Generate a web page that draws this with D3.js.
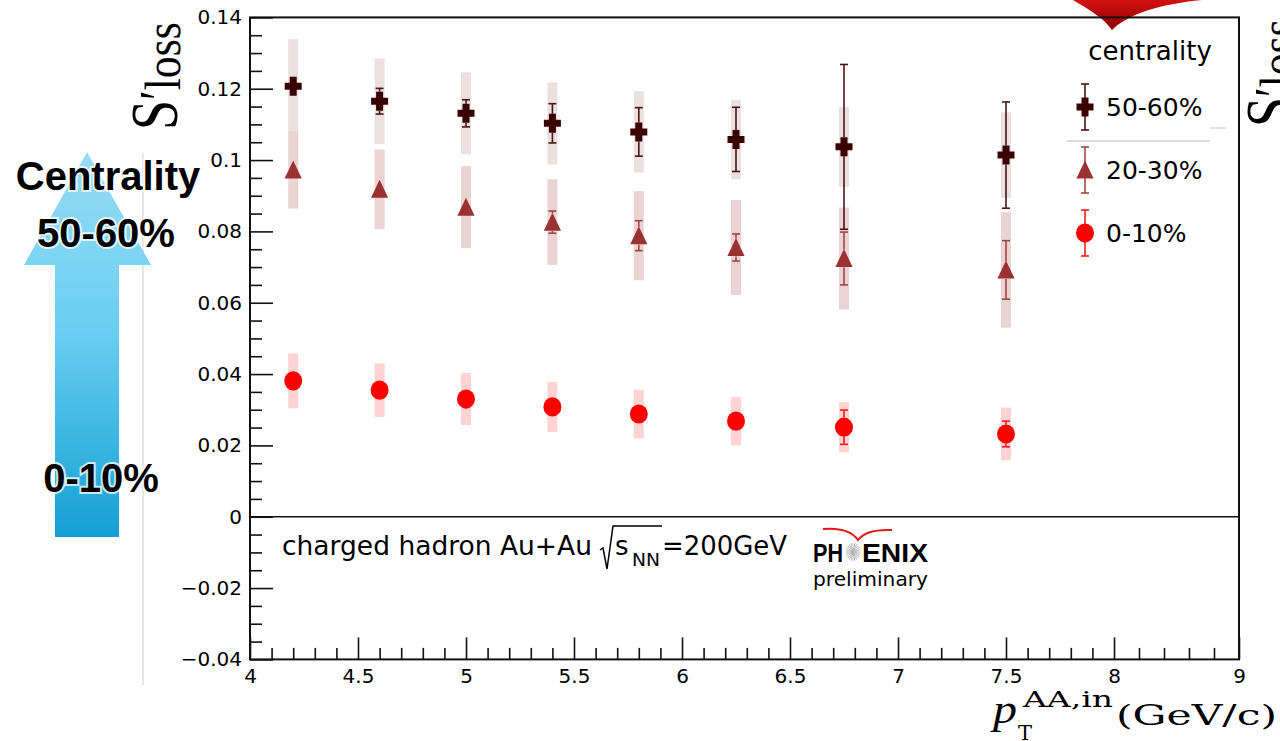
<!DOCTYPE html>
<html>
<head>
<meta charset="utf-8">
<script src="https://cdn.jsdelivr.net/npm/d3@7"></script>
<style>
  body { margin: 0; background: #fff; }
  svg { display: block; }
</style>
</head>
<body>
<div id="chart"></div>
<script>
// data
var pt = [4.2, 4.6, 5.0, 5.4, 5.8, 6.25, 6.75, 7.5];

var s5060 = [0.1207, 0.1165, 0.1131, 0.1103, 0.1079, 0.1058, 0.1037, 0.1014];
var stat5060 = [0.0015, 0.0036, 0.0038, 0.0055, 0.0068, 0.0090, 0.0231, 0.0149];
var sys5060 = [0.0132, 0.0120, 0.0115, 0.0115, 0.0114, 0.0111, 0.0112, 0.0120];

var s2030 = [0.0972, 0.0918, 0.0868, 0.0826, 0.0788, 0.0755, 0.0724, 0.0692];
var stat2030 = [0.0015, 0.0018, 0.0020, 0.0031, 0.0042, 0.0038, 0.0074, 0.0082];
var sys2030 = [0.0108, 0.0112, 0.0115, 0.0120, 0.0125, 0.0133, 0.0143, 0.0162];

var s010 = [0.0381, 0.0355, 0.0330, 0.0308, 0.0288, 0.0268, 0.0251, 0.0232];
var stat010 = [0.0010, 0.0010, 0.0010, 0.0012, 0.0013, 0.0015, 0.0048, 0.0036];
var sys010 = [0.0077, 0.0075, 0.0073, 0.0070, 0.0068, 0.0068, 0.0070, 0.0074];

var seriesNames = ["50-60%", "20-30%", "0-10%"];

var xTicks = [4, 4.5, 5, 5.5, 6, 6.5, 7, 7.5, 8, 9];
var xTickLabels = ["4", "4.5", "5", "5.5", "6", "6.5", "7", "7.5", "8", "9"];
var yTicks = [-0.04, -0.02, 0, 0.02, 0.04, 0.06, 0.08, 0.1, 0.12, 0.14];
var yTickLabels = ["\u22120.04", "\u22120.02", "0", "0.02", "0.04", "0.06", "0.08", "0.1", "0.12", "0.14"];

// SVG
var svgWidth = 1280, svgHeight = 741;
var plot = { left: 250, right: 1239, top: 17.4, bottom: 659.4 };

var svg = d3.select("#chart")
    .append("svg")
    .attr("width", svgWidth)
    .attr("height", svgHeight);

var defs = svg.append("defs");
var grad = defs.append("linearGradient")
    .attr("id", "arrowGrad")
    .attr("x1", 0).attr("y1", 0).attr("x2", 0).attr("y2", 1);
grad.append("stop").attr("offset", "0%").attr("stop-color", "#97dcf6");
grad.append("stop").attr("offset", "45%").attr("stop-color", "#6ccff2");
grad.append("stop").attr("offset", "100%").attr("stop-color", "#14a0d4");

var redGrad = defs.append("linearGradient")
    .attr("id", "redGrad")
    .attr("x1", 0).attr("y1", 0).attr("x2", 0).attr("y2", 1);
redGrad.append("stop").attr("offset", "0%").attr("stop-color", "#d21010");
redGrad.append("stop").attr("offset", "100%").attr("stop-color", "#8e0000");

// scales (the 8-9 stretch of the axis is squeezed in the original)
var xScale = d3.scaleLinear()
    .domain([4, 8, 9])
    .range([plot.left, 1114, plot.right]);

var yScale = d3.scaleLinear()
    .domain([-0.04, 0.14])
    .range([plot.bottom, plot.top]);

// ---- left slide decoration: centrality arrow
svg.append("line")
    .attr("x1", 143).attr("x2", 143)
    .attr("y1", 153).attr("y2", 685)
    .attr("stroke", "#cfcfcf")
    .attr("stroke-width", 1);

svg.append("path")
    .attr("d", "M87,152 L151,265 L119,265 L119,537 L55,537 L55,265 L24,265 Z")
    .attr("fill", "url(#arrowGrad)");

function glowText(txt, x, yPos) {
    svg.append("text")
        .attr("x", x)
        .attr("y", yPos)
        .attr("text-anchor", "middle")
        .attr("font-family", "Liberation Sans, Arial, sans-serif")
        .attr("font-weight", "bold")
        .attr("font-size", "40px")
        .attr("fill", "#000")
        .attr("stroke", "rgba(255,255,255,0.75)")
        .attr("stroke-width", 4)
        .attr("paint-order", "stroke")
        .text(txt);
}
glowText("Centrality", 108, 190);
glowText("50-60%", 106, 247);
glowText("0-10%", 101, 492);

// ---- red shape cut at the top
svg.append("path")
    .attr("d", "M1073,0 C1088,9 1104,18 1112,30 C1128,14 1160,4 1202,0 Z")
    .attr("fill", "url(#redGrad)");

// ---- axes
var xAxis = d3.axisBottom(xScale)
    .tickValues(xTicks)
    .tickSize(-22)
    .tickPadding(9)
    .tickFormat(function(d, i) { return xTickLabels[i]; });

var minorX = d3.range(41, 80).map(function(d) { return d / 10; })
    .filter(function(d) { return Math.abs(d * 2 - Math.round(d * 2)) > 1e-6; })
    .concat([8.2, 8.4, 8.6, 8.8]);

var xAxisMinor = d3.axisBottom(xScale)
    .tickValues(minorX)
    .tickSize(-11.5)
    .tickFormat("");

var yAxis = d3.axisLeft(yScale)
    .tickValues(yTicks)
    .tickSize(-23)
    .tickPadding(8)
    .tickFormat(function(d, i) { return yTickLabels[i]; });

var minorY = d3.range(-40, 141, 5)
    .filter(function(d) { return d % 20 !== 0; })
    .map(function(d) { return d / 1000; });

var yAxisMinor = d3.axisLeft(yScale)
    .tickValues(minorY)
    .tickSize(-12)
    .tickFormat("");

function styleAxis(g) {
    g.select(".domain").remove();
    g.selectAll("line").attr("stroke", "#111").attr("stroke-width", 1.6);
    g.selectAll("text")
        .attr("font-family", "DejaVu Sans, sans-serif")
        .attr("font-size", "20px")
        .attr("fill", "#000");
}

svg.append("g")
    .attr("transform", `translate(0, ${plot.bottom})`)
    .call(xAxisMinor).call(styleAxis);
svg.append("g")
    .attr("transform", `translate(0, ${plot.bottom})`)
    .call(xAxis).call(styleAxis);
svg.append("g")
    .attr("transform", `translate(${plot.left}, 0)`)
    .call(yAxisMinor).call(styleAxis);
svg.append("g")
    .attr("transform", `translate(${plot.left}, 0)`)
    .call(yAxis).call(styleAxis);

// frame
svg.append("rect")
    .attr("x", plot.left).attr("y", plot.top)
    .attr("width", plot.right - plot.left)
    .attr("height", plot.bottom - plot.top)
    .attr("fill", "none")
    .attr("stroke", "#111")
    .attr("stroke-width", 2);

// zero line
svg.append("line")
    .attr("x1", plot.left).attr("x2", plot.right)
    .attr("y1", yScale(0)).attr("y2", yScale(0))
    .attr("stroke", "#111")
    .attr("stroke-width", 1.6);

// ---- markers
function crossPath() {
    var a = 8.5, b = 9.5, t = 3.5;
    return `M${-t},${-b} L${t},${-b} L${t},${-t} L${a},${-t} L${a},${t} L${t},${t} L${t},${b} L${-t},${b} L${-t},${t} L${-a},${t} L${-a},${-t} L${-t},${-t} Z`;
}
function trianglePath() {
    return "M0,-9.5 L8.6,8.5 L-8.6,8.5 Z";
}
function circlePath() {
    return "M-9,0 A9,9.6 0 1,0 9,0 A9,9.6 0 1,0 -9,0 Z";
}

var series = [
    { name: seriesNames[0], vals: s5060, stat: stat5060, sys: sys5060,
      color: "#3a0000", bar: "#4a1515", band: "#ecdfe0", path: crossPath(), half: 9.5 },
    { name: seriesNames[1], vals: s2030, stat: stat2030, sys: sys2030,
      color: "#9a3232", bar: "#a54444", band: "#ecd3d3", path: trianglePath(), half: 9 },
    { name: seriesNames[2], vals: s010, stat: stat010, sys: sys010,
      color: "#ff0000", bar: "#ff1a1a", band: "#ffd3d3", path: circlePath(), half: 9.6 }
];

// systematic bands
series.forEach(function(s) {
    svg.append("g").selectAll("rect")
        .data(pt)
        .enter()
        .append("rect")
        .attr("x", d => xScale(d) - 5)
        .attr("width", 10)
        .attr("y", (d, i) => yScale(s.vals[i] + s.sys[i]))
        .attr("height", (d, i) => yScale(s.vals[i] - s.sys[i]) - yScale(s.vals[i] + s.sys[i]))
        .attr("fill", s.band);
});

// statistical bars, drawn outside the marker only
series.forEach(function(s) {
    var g = svg.append("g")
        .attr("stroke", s.bar)
        .attr("stroke-width", 1.6);
    pt.forEach(function(p, i) {
        var cx = xScale(p);
        var cy = yScale(s.vals[i]);
        var top = yScale(s.vals[i] + s.stat[i]);
        var bot = yScale(s.vals[i] - s.stat[i]);
        if (cy - top > s.half) {
            g.append("line").attr("x1", cx).attr("x2", cx).attr("y1", top).attr("y2", cy - s.half);
            g.append("line").attr("x1", cx - 4).attr("x2", cx + 4).attr("y1", top).attr("y2", top);
            g.append("line").attr("x1", cx).attr("x2", cx).attr("y1", cy + s.half).attr("y2", bot);
            g.append("line").attr("x1", cx - 4).attr("x2", cx + 4).attr("y1", bot).attr("y2", bot);
        }
    });
});

series.forEach(function(s) {
    svg.append("g").selectAll("path")
        .data(pt)
        .enter()
        .append("path")
        .attr("d", s.path)
        .attr("transform", (d, i) => `translate(${xScale(d)}, ${yScale(s.vals[i])})`)
        .attr("fill", s.color);
});

// ---- legend
var legend = svg.append("g");
legend.append("text")
    .attr("x", 1150).attr("y", 60)
    .attr("text-anchor", "middle")
    .attr("font-family", "DejaVu Sans, sans-serif")
    .attr("font-size", "26px")
    .text("centrality");

legend.append("line")
    .attr("x1", 1067).attr("x2", 1210).attr("y1", 141).attr("y2", 141)
    .attr("stroke", "#b8b8b8").attr("stroke-width", 1);
legend.append("line")
    .attr("x1", 1210).attr("x2", 1226).attr("y1", 128).attr("y2", 128)
    .attr("stroke", "#c8c8c8").attr("stroke-width", 1);

var legendY = [107, 170, 233];
series.forEach(function(s, i) {
    var ly = legendY[i];
    var g = legend.append("g").attr("transform", `translate(1085, ${ly})`);
    g.append("line").attr("x1", 0).attr("x2", 0).attr("y1", -23).attr("y2", 23)
        .attr("stroke", s.bar).attr("stroke-width", 1.6);
    g.append("line").attr("x1", -4).attr("x2", 4).attr("y1", -23).attr("y2", -23)
        .attr("stroke", s.bar).attr("stroke-width", 1.6);
    g.append("line").attr("x1", -4).attr("x2", 4).attr("y1", 23).attr("y2", 23)
        .attr("stroke", s.bar).attr("stroke-width", 1.6);
    g.append("path").attr("d", s.path).attr("fill", s.color);
    legend.append("text")
        .attr("x", 1106).attr("y", ly + 9)
        .attr("font-family", "DejaVu Sans, sans-serif")
        .attr("font-size", "25px")
        .text(s.name);
});

// ---- annotation
var note = svg.append("g")
    .attr("font-family", "DejaVu Sans, sans-serif")
    .attr("fill", "#000");
note.append("text")
    .attr("x", 282).attr("y", 555)
    .attr("font-size", "26px")
    .attr("textLength", 310)
    .attr("lengthAdjust", "spacingAndGlyphs")
    .text("charged hadron Au+Au");
note.append("path")
    .attr("d", "M600,550 L603,548 L607,569 L613,526 L662,526")
    .attr("fill", "none")
    .attr("stroke", "#000")
    .attr("stroke-width", 1.5);
note.append("text")
    .attr("x", 615).attr("y", 555)
    .attr("font-size", "26px")
    .text("s");
note.append("text")
    .attr("x", 632).attr("y", 566)
    .attr("font-size", "18px")
    .attr("textLength", 28)
    .attr("lengthAdjust", "spacingAndGlyphs")
    .text("NN");
note.append("text")
    .attr("x", 662).attr("y", 555)
    .attr("font-size", "26px")
    .attr("textLength", 125)
    .attr("lengthAdjust", "spacingAndGlyphs")
    .text("=200GeV");

// PHENIX logo
note.append("path")
    .attr("d", "M823,529 Q849,527 858,540 Q866,529 892,530")
    .attr("fill", "none")
    .attr("stroke", "#e01818")
    .attr("stroke-width", 2);
note.append("text")
    .attr("x", 813).attr("y", 562)
    .attr("font-family", "Liberation Sans, Arial, sans-serif")
    .attr("font-weight", "bold")
    .attr("font-size", "25px")
    .attr("textLength", 30)
    .attr("lengthAdjust", "spacingAndGlyphs")
    .text("PH");
note.append("text")
    .attr("x", 862).attr("y", 562)
    .attr("font-family", "Liberation Sans, Arial, sans-serif")
    .attr("font-weight", "bold")
    .attr("font-size", "25px")
    .attr("textLength", 66)
    .attr("lengthAdjust", "spacingAndGlyphs")
    .text("ENIX");
var star = note.append("g").attr("transform", "translate(853, 552)");
d3.range(0, 180, 15).forEach(function(a) {
    var r = a * Math.PI / 180;
    star.append("line")
        .attr("x1", -7.5 * Math.cos(r)).attr("y1", -9 * Math.sin(r))
        .attr("x2", 7.5 * Math.cos(r)).attr("y2", 9 * Math.sin(r))
        .attr("stroke", "#b4b4b4").attr("stroke-width", 0.9);
});
note.append("text")
    .attr("x", 813).attr("y", 586)
    .attr("font-size", "19px")
    .attr("textLength", 115)
    .attr("lengthAdjust", "spacingAndGlyphs")
    .text("preliminary");

// ---- axis titles
function yTitle(x0, y0) {
    var t = svg.append("text")
        .attr("transform", `translate(${x0}, ${y0}) rotate(-90) scale(1, 1.25)`)
        .attr("font-family", "Liberation Serif, DejaVu Serif, serif")
        .attr("font-size", "54px")
        .attr("fill", "#000");
    t.append("tspan").text("S");
    t.append("tspan").attr("font-size", "44px").text("\u2032");
    t.append("tspan")
        .attr("font-size", "40px")
        .attr("textLength", 68)
        .attr("lengthAdjust", "spacingAndGlyphs")
        .attr("dy", 2)
        .text("loss");
}
yTitle(177, 130);
yTitle(1292, 127);

var xt = svg.append("g")
    .attr("font-family", "DejaVu Serif, serif")
    .attr("fill", "#000");
xt.append("text")
    .attr("x", 993).attr("y", 723)
    .attr("font-family", "Liberation Serif, serif")
    .attr("font-style", "italic")
    .attr("font-size", "42px")
    .attr("textLength", 24)
    .attr("lengthAdjust", "spacingAndGlyphs")
    .text("p");
xt.append("text")
    .attr("x", 1018).attr("y", 740)
    .attr("font-size", "21px")
    .text("T");
xt.append("text")
    .attr("x", 1023).attr("y", 707)
    .attr("font-size", "23px")
    .attr("textLength", 90)
    .attr("lengthAdjust", "spacingAndGlyphs")
    .text("AA,in");
xt.append("text")
    .attr("x", 1116).attr("y", 725)
    .attr("font-size", "28px")
    .attr("textLength", 161)
    .attr("lengthAdjust", "spacingAndGlyphs")
    .text("(GeV/c)");
</script>
</body>
</html>
